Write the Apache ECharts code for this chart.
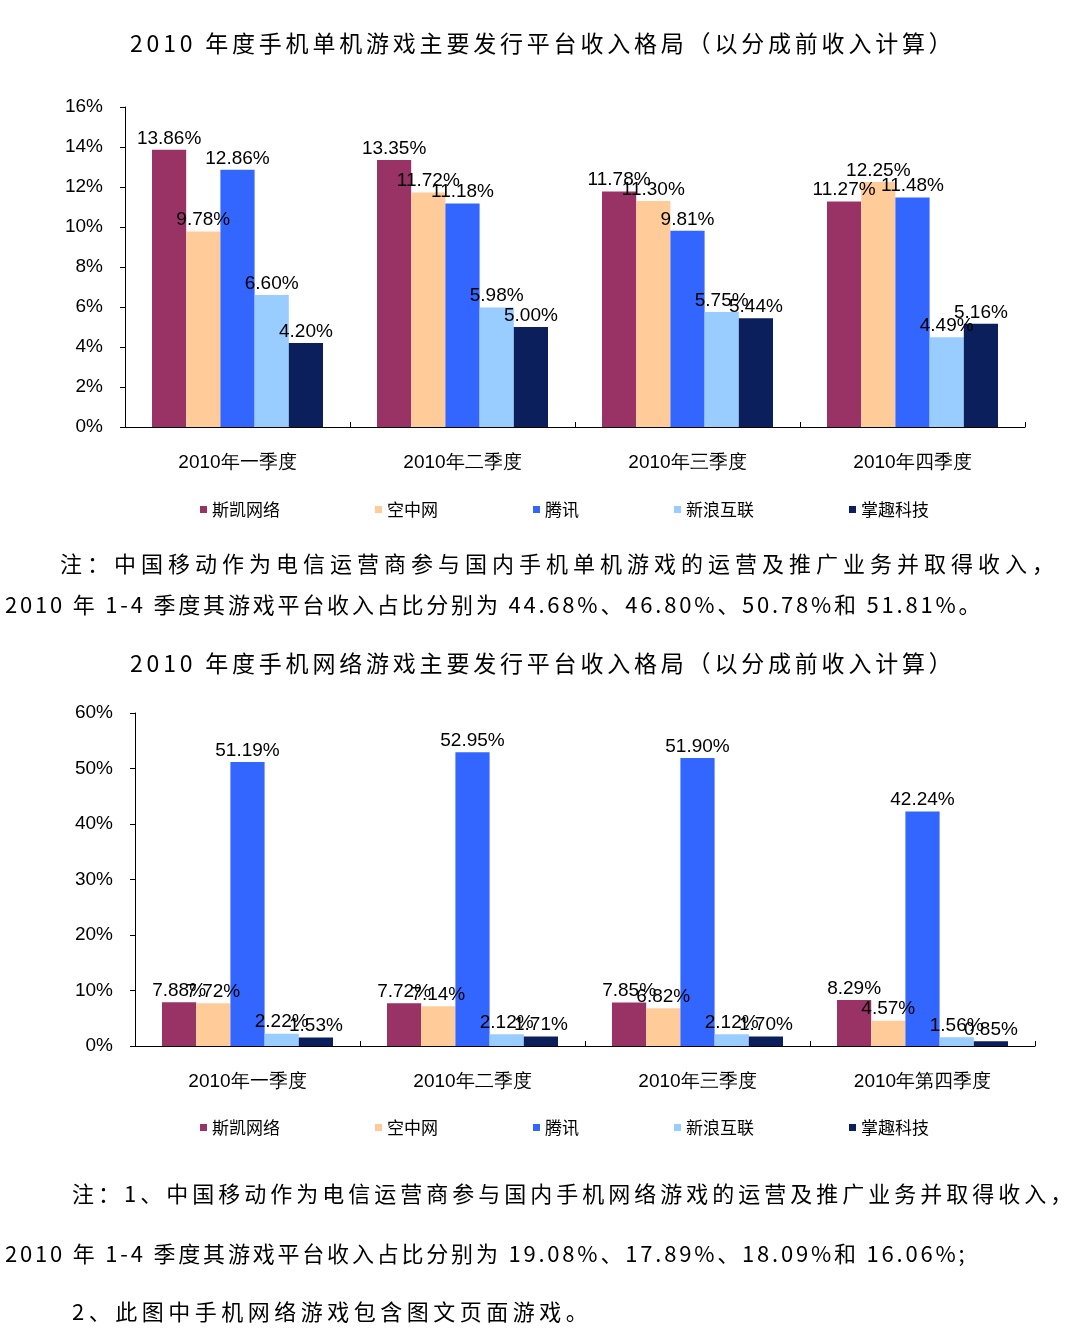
<!DOCTYPE html>
<html><head><meta charset="utf-8">
<script src="https://cdn.jsdelivr.net/npm/echarts@6/dist/echarts.min.js"></script>
<style>html,body{margin:0;padding:0;background:#fff}#c{width:1080px;height:1331px}
.t{position:absolute;font-family:"Noto Sans CJK SC",sans-serif;font-size:22px;color:#000;white-space:nowrap;line-height:1}</style>
</head><body><div id="c"></div>
<div class="t" style="left:130px;top:31px;font-size:23px;letter-spacing:3.8px">2010 年度手机单机游戏主要发行平台收入格局（以分成前收入计算）</div>
<div class="t" style="left:60px;top:551px;letter-spacing:5px">注：中国移动作为电信运营商参与国内手机单机游戏的运营及推广业务并取得收入，</div>
<div class="t" style="left:5px;top:592px;letter-spacing:2.8px">2010 年 1-4 季度其游戏平台收入占比分别为 44.68%、46.80%、50.78%和 51.81%。</div>
<div class="t" style="left:130px;top:651px;font-size:23px;letter-spacing:3.8px">2010 年度手机网络游戏主要发行平台收入格局（以分成前收入计算）</div>
<div class="t" style="left:72px;top:1181px;letter-spacing:4px">注：1、中国移动作为电信运营商参与国内手机网络游戏的运营及推广业务并取得收入，</div>
<div class="t" style="left:5px;top:1241px;letter-spacing:2.8px">2010 年 1-4 季度其游戏平台收入占比分别为 19.08%、17.89%、18.09%和 16.06%;</div>
<div class="t" style="left:72px;top:1299px;letter-spacing:4.5px">2、此图中手机网络游戏包含图文页面游戏。</div>
<script>
const names = ['斯凯网络','空中网','腾讯','新浪互联','掌趣科技'];
const colors = ['#993366','#FFCC99','#3366FF','#99CCFF','#0A1F5C'];
const cats1 = ['2010年一季度','2010年二季度','2010年三季度','2010年四季度'];
const cats2 = ['2010年一季度','2010年二季度','2010年三季度','2010年第四季度'];
const single = [
  [13.86,13.35,11.78,11.27],
  [9.78,11.72,11.30,12.25],
  [12.86,11.18,9.81,11.48],
  [6.60,5.98,5.75,4.49],
  [4.20,5.00,5.44,5.16]
];
const online = [
  [7.88,7.72,7.85,8.29],
  [7.72,7.14,6.82,4.57],
  [51.19,52.95,51.90,42.24],
  [2.22,2.12,2.12,1.56],
  [1.53,1.71,1.70,0.85]
];
const F = 'Liberation Sans, Arial, sans-serif';
const S = 'Noto Sans CJK SC, sans-serif';
const axX = (i, cats) => ({gridIndex:i, type:'category', data:cats,
  axisLine:{lineStyle:{color:'#000'}}, axisTick:{show:true, inside:true, lineStyle:{color:'#000'}},
  axisLabel:{color:'#000', fontSize:19, fontFamily:F, margin:26}});
const axY = (i, max, iv) => ({gridIndex:i, type:'value', min:0, max, interval:iv,
  axisLine:{show:true, lineStyle:{color:'#000'}}, axisTick:{show:true, lineStyle:{color:'#000'}},
  splitLine:{show:false}, axisLabel:{color:'#000', fontSize:19, fontFamily:F, formatter:'{value}%', margin:22}});
const series = [];
[single, online].forEach((ds, g) => {
  ds.forEach((d, k) => series.push({
    name:names[k], type:'bar', xAxisIndex:g, yAxisIndex:g, data:d,
    barGap:'0%', barCategoryGap:'24%', itemStyle:{color:colors[k]},
    label:{show:true, position:'top', formatter:p=>p.value.toFixed(2)+'%', color:'#000', fontSize:19, fontFamily:F, distance:2}
  }));
});
const leg = top => ({top, left:195, itemGap:95, itemWidth:7, itemHeight:7, icon:'rect', data:names,
  textStyle:{fontSize:17, fontFamily:S, color:'#000'}});
const chart = echarts.init(document.getElementById('c'));
chart.setOption({
  animation:false,
  color:colors,
  grid:[{left:125,right:55,top:107,bottom:904},{left:135,right:45,top:713,bottom:285}],
  xAxis:[axX(0,cats1), axX(1,cats2)],
  yAxis:[axY(0,16,2), axY(1,60,10)],
  legend:[leg(496), leg(1114)],
  series
});
</script></body></html>
